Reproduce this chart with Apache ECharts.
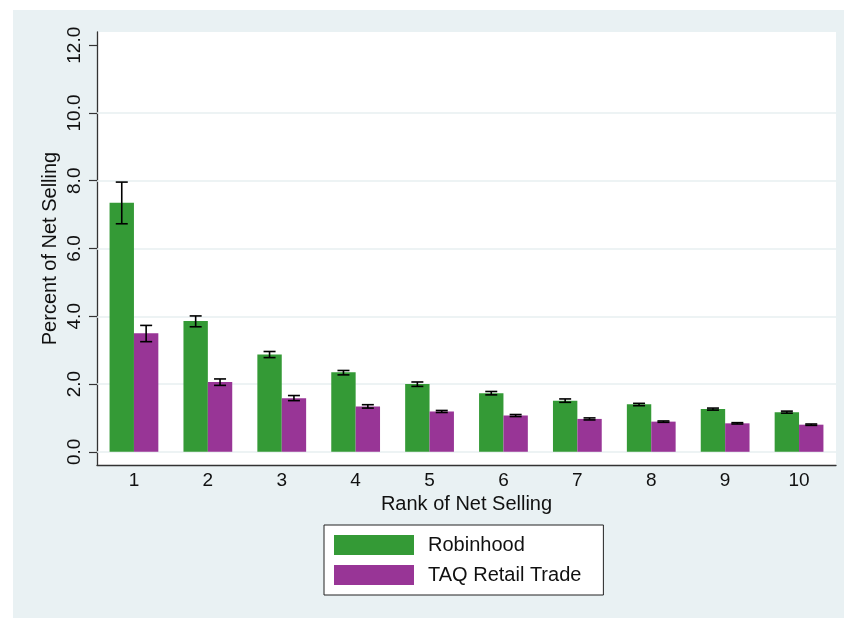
<!DOCTYPE html>
<html>
<head>
<meta charset="utf-8">
<script src="https://cdn.jsdelivr.net/npm/echarts@6/dist/echarts.min.js"></script>
<style>
  html, body { margin: 0; padding: 0; background: #ffffff; }
  #wrap { position: relative; width: 844px; height: 618px; background: #ffffff; }
  #chart { position: absolute; left: 13px; top: 10px; width: 831px; height: 608px; }
</style>
</head>
<body>
<div id="wrap"><div id="chart"></div></div>
<script>
const categories = ['1', '2', '3', '4', '5', '6', '7', '8', '9', '10'];
const robinhood = [7.35, 3.86, 2.87, 2.35, 2.00, 1.73, 1.51, 1.40, 1.26, 1.17];
const robinhoodLow = [6.73, 3.69, 2.78, 2.27, 1.93, 1.68, 1.46, 1.36, 1.23, 1.14];
const robinhoodHigh = [7.96, 4.01, 2.96, 2.40, 2.06, 1.78, 1.56, 1.43, 1.29, 1.20];
const taq = [3.50, 2.06, 1.58, 1.34, 1.19, 1.07, 0.97, 0.89, 0.84, 0.80];
const taqLow = [3.25, 1.96, 1.51, 1.29, 1.16, 1.04, 0.94, 0.87, 0.82, 0.78];
const taqHigh = [3.73, 2.15, 1.66, 1.39, 1.22, 1.10, 1.00, 0.91, 0.86, 0.82];
const yTickValues = [0, 2, 4, 6, 8, 10, 12];
const gridValues = [0, 2, 4, 6, 8, 10];

const FONT = "'Liberation Sans', Arial, Helvetica, sans-serif";
const GREEN = '#349a36';
const PURPLE = '#983596';
const CAT_GAP = 0.34;

function errorRender(side) {
  return function (params, api) {
    const x = api.value(0);
    const lo = api.coord([x, api.value(1)]);
    const hi = api.coord([x, api.value(2)]);
    const band = api.size([1, 0])[0];
    const bw = band * (1 - CAT_GAP) / 2;
    const cx = lo[0] + side * bw / 2;
    const cap = 6;
    const st = { stroke: '#000000', lineWidth: 1.6 };
    return {
      type: 'group',
      children: [
        { type: 'line', shape: { x1: cx, y1: hi[1], x2: cx, y2: lo[1] }, style: st },
        { type: 'line', shape: { x1: cx - cap, y1: hi[1], x2: cx + cap, y2: hi[1] }, style: st },
        { type: 'line', shape: { x1: cx - cap, y1: lo[1], x2: cx + cap, y2: lo[1] }, style: st }
      ]
    };
  };
}

const chart = echarts.init(document.getElementById('chart'), null, { renderer: 'canvas' });
chart.setOption({
  animation: false,
  backgroundColor: '#e9f1f3',
  textStyle: { fontFamily: FONT },
  grid: {
    left: 84, right: 8, top: 22, bottom: 153,
    show: true, backgroundColor: '#ffffff', borderWidth: 0
  },
  legend: {
    data: ['Robinhood', 'TAQ Retail Trade'],
    orient: 'vertical',
    left: 311, top: 515,
    itemWidth: 80, itemHeight: 20, itemGap: 10,
    icon: 'rect',
    padding: [10, 22, 10, 10],
    backgroundColor: '#ffffff',
    borderColor: '#222222', borderWidth: 1, borderRadius: 0,
    textStyle: { fontFamily: FONT, fontSize: 20, color: '#111111', padding: [0, 0, 0, 9] }
  },
  xAxis: {
    type: 'category',
    data: categories,
    name: 'Rank of Net Selling',
    nameLocation: 'middle',
    nameGap: 28,
    nameTextStyle: { fontFamily: FONT, fontSize: 20, color: '#111111' },
    axisLine: { onZero: false, lineStyle: { color: '#333333', width: 1.3 } },
    axisTick: { show: false },
    axisLabel: { fontFamily: FONT, fontSize: 19, color: '#111111', margin: 6 },
    splitLine: { show: false }
  },
  yAxis: {
    type: 'value',
    min: -0.39, max: 12.39,
    name: 'Percent of Net Selling',
    nameLocation: 'middle',
    nameGap: 37,
    nameMoveOverlap: false,
    nameRotate: 90,
    nameTextStyle: { fontFamily: FONT, fontSize: 20, color: '#111111' },
    axisLine: { show: true, lineStyle: { color: '#333333', width: 1.3 } },
    axisTick: { show: true, length: 8, customValues: yTickValues, lineStyle: { color: '#333333', width: 1.2 } },
    axisLabel: {
      customValues: yTickValues,
      rotate: 90,
      fontFamily: FONT, fontSize: 19, color: '#111111', margin: 13,
      formatter: function (v) { return Number(v).toFixed(1); }
    },
    splitLine: { show: false }
  },
  series: [
    {
      name: 'gridlines', type: 'line', data: categories.map(function () { return null; }),
      silent: true, symbol: 'none', z: 1, lineStyle: { opacity: 0 },
      markLine: {
        silent: true, symbol: ['none', 'none'], label: { show: false },
        lineStyle: { color: '#e7eff1', width: 1.6, type: 'solid' },
        data: gridValues.map(function (v) { return { yAxis: v }; })
      }
    },
    {
      name: 'Robinhood', type: 'bar', data: robinhood, z: 10,
      barGap: '0%', barCategoryGap: (CAT_GAP * 100) + '%',
      itemStyle: { color: GREEN }
    },
    {
      name: 'TAQ Retail Trade', type: 'bar', data: taq, z: 10,
      barGap: '0%', barCategoryGap: (CAT_GAP * 100) + '%',
      itemStyle: { color: PURPLE }
    },
    {
      name: 'Robinhood CI', type: 'custom', z: 12, silent: true,
      renderItem: errorRender(-1),
      encode: { x: 0, y: [1, 2] },
      data: categories.map(function (c, i) { return [i, robinhoodLow[i], robinhoodHigh[i]]; })
    },
    {
      name: 'TAQ CI', type: 'custom', z: 12, silent: true,
      renderItem: errorRender(1),
      encode: { x: 0, y: [1, 2] },
      data: categories.map(function (c, i) { return [i, taqLow[i], taqHigh[i]]; })
    }
  ]
});
</script>
</body>
</html>
